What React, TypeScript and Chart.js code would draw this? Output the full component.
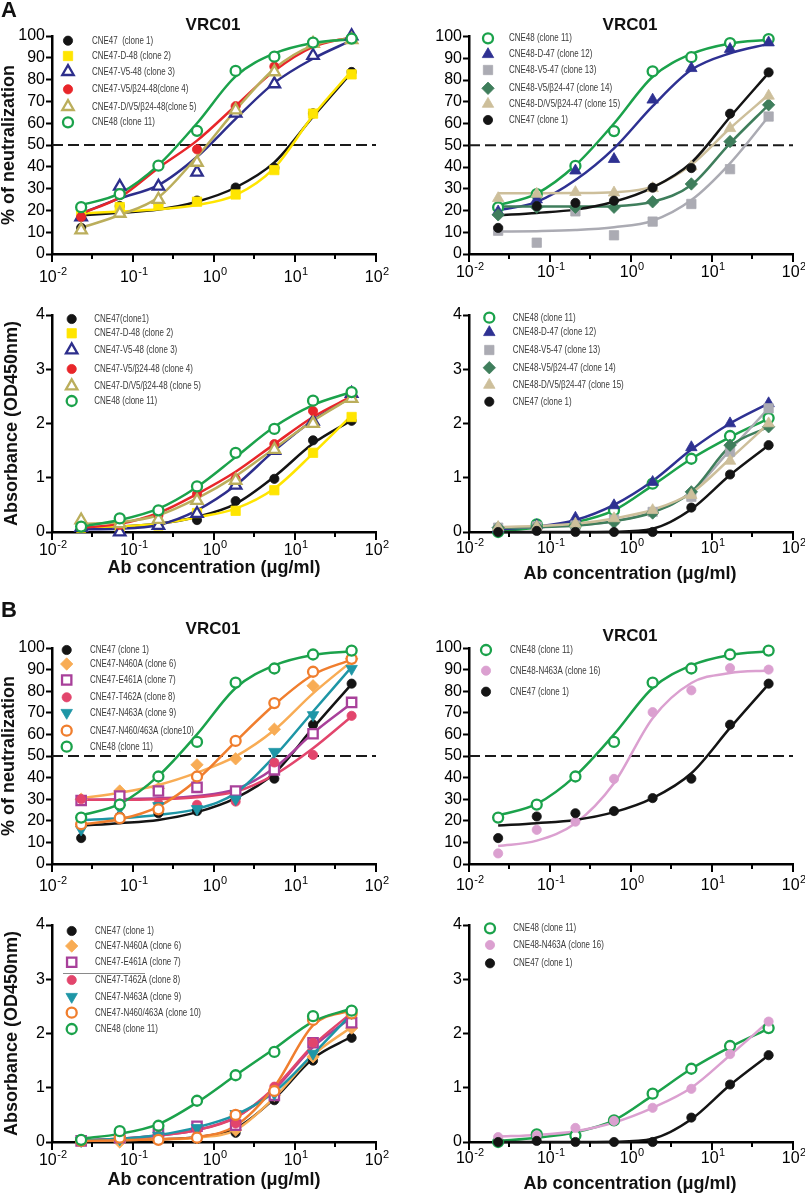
import React, { useEffect, useRef } from "react";
import { Chart, registerables } from "chart.js";
import { drawPoint } from "chart.js/helpers";

Chart.register(...registerables);

const FONT = "'Liberation Sans', Arial, Helvetica, sans-serif";

// ---------- DATA ----------
// antibody concentrations (µg/ml), 3-fold dilutions
const conc = [0.0229, 0.0686, 0.206, 0.617, 1.85, 5.56, 16.7, 50];
const xDecades = [0.01, 0.1, 1, 10, 100];
const xExponents = ["-2", "-1", "0", "1", "2"];
const xMinor = [0.0316, 0.316, 3.16, 31.6];

// % neutralization — shared reference viruses
const cne47Neut = [12, 22, 23.5, 24.5, 30.5, 39.5, 64.5, 83.5];
const cne47NeutFit = [17.8, 18.9, 20.4, 24, 30.5, 42, 63, 83.3];
const cne48Neut = [21.5, 27.5, 40.5, 56.5, 84, 90.5, 97, 98.8];
const cne48NeutFit = [22.4, 27.8, 40.8, 60, 81.5, 92, 96.8, 98.5];

// panel A, neutralization, CNE47 background chimeras
const c2Neut = [18, 21.5, 22.5, 24, 27.3, 38.5, 64.4, 82.4];
const c2NeutFit = [18.6, 19.5, 20.5, 22.5, 27, 39.5, 63.5, 84];
const c3Neut = [17, 31, 31, 37.5, 64.5, 78, 91, 100];
const c3NeutFit = [18.6, 25.5, 31.6, 44.6, 62, 78.5, 89.6, 98];
const c4Neut = [17, 27, 40.5, 48, 67.8, 86, 97, 99];
const c4NeutFit = [18.6, 26, 39.5, 52, 68, 84, 95, 99.5];
const c5Neut = [11, 18.6, 25, 42, 66, 83.5, 96.5, 98.3];
const c5NeutFit = [12, 17.9, 26, 44.6, 66, 85, 95.7, 99];

// panel A, neutralization, CNE48 background chimeras
const c12Neut = [19.5, 25, 38.3, 43.6, 70.9, 85.4, 94.2, 97.2];
const c12NeutFit = [20, 24, 34, 48.6, 68, 84.7, 92.3, 96.6];
const c13Neut = [10.7, 5.2, 19.6, 8.6, 14.9, 23, 39, 63.2];
const c13NeutFit = [10.3, 10.5, 11, 12.3, 15.3, 24.8, 41.7, 63.2];
const c14Neut = [18, 21.5, 21.5, 21.5, 24, 32.2, 51.7, 68.6];
const c14NeutFit = [21.8, 21.8, 21.8, 22, 24, 31.7, 50.9, 68.6];
const c15Neut = [25.6, 27.6, 28.4, 28.2, 30.2, 40.2, 57.8, 72.7];
const c15NeutFit = [27.9, 27.9, 28, 28.4, 31, 41, 57.8, 73.2];

// panel A, absorbance, CNE47 set
const a1Abs = [0.09, 0.09, 0.13, 0.22, 0.57, 0.98, 1.69, 2.05];
const a1AbsFit = [0.08, 0.1, 0.15, 0.28, 0.52, 1.02, 1.63, 2.06];
const a2Abs = [0.08, 0.09, 0.12, 0.35, 0.39, 0.77, 1.46, 2.12];
const a2AbsFit = [0.08, 0.1, 0.15, 0.27, 0.43, 0.8, 1.45, 2.15];
const a3Abs = [0.08, 0, 0.12, 0.34, 0.86, 1.5, 2.04, 2.55];
const a3AbsFit = [0.05, 0.06, 0.13, 0.4, 0.86, 1.5, 2.06, 2.49];
const a4Abs = [0.1, 0.13, 0.31, 0.7, 0.98, 1.62, 2.23, 2.52];
const a4AbsFit = [0.08, 0.15, 0.35, 0.7, 1.11, 1.62, 2.12, 2.5];
const a5Abs = [0.22, 0.15, 0.23, 0.58, 0.95, 1.52, 2.0, 2.46];
const a5AbsFit = [0.15, 0.18, 0.31, 0.62, 1.03, 1.54, 2.05, 2.48];
const a11Abs = [0.1, 0.25, 0.4, 0.84, 1.46, 1.9, 2.42, 2.58];
const a11AbsFit = [0.1, 0.22, 0.43, 0.83, 1.38, 1.94, 2.34, 2.58];

// panel A / B, absorbance, CNE48 set
const b11Abs = [0, 0.14, 0.12, 0.4, 0.89, 1.35, 1.77, 2.1];
const b11AbsFit = [0.02, 0.08, 0.18, 0.4, 0.86, 1.35, 1.75, 2.09];
const b12Abs = [0.06, 0.12, 0.26, 0.49, 0.92, 1.56, 2.0, 2.37];
const b12AbsFit = [0.05, 0.1, 0.22, 0.5, 0.94, 1.52, 2.0, 2.37];
const b13Abs = [0.08, 0.1, 0.12, 0.23, 0.37, 0.65, 1.48, 2.28];
const b13AbsFit = [0.08, 0.09, 0.12, 0.2, 0.37, 0.74, 1.51, 2.28];
const b14Abs = [0.08, 0.09, 0.12, 0.18, 0.35, 0.74, 1.6, 1.94];
const b14AbsFit = [0.08, 0.09, 0.12, 0.2, 0.36, 0.74, 1.58, 1.94];
const b15Abs = [0.09, 0.1, 0.15, 0.25, 0.4, 0.68, 1.31, 2.0];
const b15AbsFit = [0.09, 0.11, 0.15, 0.25, 0.41, 0.72, 1.35, 2.0];
const b1Abs = [0, 0.02, 0, 0, 0, 0.45, 1.06, 1.6];
const b1AbsFit = [0, 0, 0, 0.005, 0.06, 0.42, 1.05, 1.6];

// panel B, neutralization, point mutants
const c6Neut = [30, 33.8, 35, 45.9, 48.7, 62.4, 82.5, 95];
const c6NeutFit = [30.4, 33, 36.6, 42.3, 49.8, 62, 79, 93.8];
const c7Neut = [29.4, 31.5, 33.8, 35.5, 33.8, 43.6, 60.3, 74.8];
const c7NeutFit = [29.7, 30, 30.4, 31.5, 34.6, 44.4, 60.6, 74.4];
const c8Neut = [30, 28, 28, 27.4, 28.9, 47, 50.5, 68.6];
const c8NeutFit = [29.7, 29.7, 30, 30.9, 33.5, 41.3, 53.6, 68.3];
const c9Neut = [16, 25.8, 26.9, 25.5, 30, 52, 69, 90.4];
const c9NeutFit = [20.4, 21.2, 22.7, 25.5, 32.8, 49.8, 70.6, 91.2];
const c10Neut = [18.4, 21.2, 25.3, 40.5, 57, 74.5, 89, 95];
const c10NeutFit = [18.4, 20.7, 26.6, 39, 56.7, 73.7, 87.6, 94.6];
const c16Neut = [4.9, 15.8, 19.6, 39.4, 70.3, 80.4, 90.7, 90];
const c16NeutFit = [8.3, 10.8, 18.9, 37.4, 67.5, 83.8, 88.4, 89.6];

// panel B, absorbance, point mutants
const d1Abs = [0.02, 0.03, 0.05, 0.06, 0.17, 0.77, 1.5, 1.92];
const d1AbsFit = [0.02, 0.03, 0.05, 0.09, 0.25, 0.8, 1.54, 1.94];
const d6Abs = [0.02, 0, 0.05, 0.08, 0.22, 0.86, 1.57, 2.1];
const d6AbsFit = [0.02, 0.03, 0.05, 0.08, 0.22, 0.82, 1.6, 2.12];
const d7Abs = [0.02, 0.08, 0.15, 0.29, 0.31, 0.86, 1.83, 2.2];
const d7AbsFit = [0.03, 0.06, 0.12, 0.22, 0.46, 0.97, 1.75, 2.3];
const d8Abs = [0.02, 0.06, 0.12, 0.22, 0.34, 1.02, 1.83, 2.37];
const d8AbsFit = [0.03, 0.06, 0.12, 0.22, 0.45, 1.0, 1.78, 2.38];
const d9Abs = [0.02, 0.05, 0.12, 0.26, 0.52, 0.89, 1.63, 2.38];
const d9AbsFit = [0.03, 0.06, 0.13, 0.27, 0.5, 0.92, 1.62, 2.36];
const d10Abs = [0.02, 0.08, 0.04, 0.08, 0.5, 0.94, 2.25, 2.37];
const d10AbsFit = [0.02, 0.03, 0.05, 0.09, 0.3, 1.02, 2.15, 2.43];
const d11Abs = [0.04, 0.2, 0.3, 0.76, 1.23, 1.66, 2.32, 2.42];
const d11AbsFit = [0.06, 0.15, 0.33, 0.73, 1.23, 1.72, 2.22, 2.46];
const e16Abs = [0.09, 0.12, 0.26, 0.39, 0.63, 0.98, 1.62, 2.22];
const e16AbsFit = [0.1, 0.13, 0.2, 0.36, 0.63, 1.0, 1.6, 2.22];

// ---------- STYLES ----------
type Shape = "circle" | "rect" | "triangle" | "triangleDown" | "rectRot";
interface Sty { color: string; shape: Shape; open: boolean }
const S: Record<string, Sty> = {
  c1: { color: "#141414", shape: "circle", open: false },
  c2: { color: "#FFE500", shape: "rect", open: false },
  c3: { color: "#2D2E8C", shape: "triangle", open: true },
  c4: { color: "#E8262A", shape: "circle", open: false },
  c5: { color: "#BBAE5C", shape: "triangle", open: true },
  c11: { color: "#1BA24B", shape: "circle", open: true },
  c12: { color: "#2E3192", shape: "triangle", open: false },
  c13: { color: "#ABABB3", shape: "rect", open: false },
  c14: { color: "#3F7E5C", shape: "rectRot", open: false },
  c15: { color: "#CDBF9B", shape: "triangle", open: false },
  c6: { color: "#F8AC55", shape: "rectRot", open: false },
  c7: { color: "#A8409A", shape: "rect", open: true },
  c8: { color: "#E2456C", shape: "circle", open: false },
  c9: { color: "#1E96A6", shape: "triangleDown", open: false },
  c10: { color: "#F07E2E", shape: "circle", open: true },
  c16: { color: "#DBA0D0", shape: "circle", open: false },
};

interface Series { label: string; sty: Sty; pts: number[]; fit: number[] }
const ser = (label: string, sty: Sty, pts: number[], fit: number[]): Series => ({ label, sty, pts, fit });

interface TextItem { text: string; x: number; y: number; font: string; align: CanvasTextAlign; baseline: CanvasTextBaseline; rotate?: boolean }
interface Panel {
  id: string; left: number; top: number; w: number; h: number;
  plotLeft: number; plotRight: number; plotTop: number; plotBottom: number;
  yMax: number; yStep: number; dashed: boolean; xLabelOffset: number;
  legendMarkerX: number; legendTextX: number; legendRows: number[];
  texts: TextItem[]; extraLines?: number[][];
  series: Series[];
}

const TITLE_FONT = `bold 17px ${FONT}`;
const AXIS_TITLE_FONT = `bold 18px ${FONT}`;
const LETTER_FONT = `bold 22px ${FONT}`;

const panels: Panel[] = [
  {
    id: "At1", left: 0, top: 0, w: 400, h: 290,
    plotLeft: 52, plotRight: 376, plotTop: 36, plotBottom: 254,
    yMax: 100, yStep: 10, dashed: true, xLabelOffset: 28,
    legendMarkerX: 68, legendTextX: 92, legendRows: [40.7, 56, 71.7, 89.3, 106.7, 122.3],
    texts: [
      { text: "A", x: 1, y: 17, font: LETTER_FONT, align: "left", baseline: "alphabetic" },
      { text: "VRC01", x: 213, y: 25, font: TITLE_FONT, align: "center", baseline: "middle" },
      { text: "% of neutralization", x: 9, y: 145, font: AXIS_TITLE_FONT, align: "center", baseline: "middle", rotate: true },
    ],
    series: [
      ser("CNE47  (clone 1)", S.c1, cne47Neut, cne47NeutFit),
      ser("CNE47-D-48 (clone 2)", S.c2, c2Neut, c2NeutFit),
      ser("CNE47-V5-48 (clone 3)", S.c3, c3Neut, c3NeutFit),
      ser("CNE47-V5/β24-48(clone 4)", S.c4, c4Neut, c4NeutFit),
      ser("CNE47-D/V5/β24-48(clone 5)", S.c5, c5Neut, c5NeutFit),
      ser("CNE48 (clone 11)", S.c11, cne48Neut, cne48NeutFit),
    ],
  },
  {
    id: "At2", left: 400, top: 0, w: 405, h: 290,
    plotLeft: 69, plotRight: 393, plotTop: 36.5, plotBottom: 254,
    yMax: 100, yStep: 10, dashed: true, xLabelOffset: 23,
    legendMarkerX: 488, legendTextX: 509, legendRows: [38.3, 54.3, 70, 88.3, 104, 120],
    texts: [
      { text: "VRC01", x: 630, y: 25, font: TITLE_FONT, align: "center", baseline: "middle" },
    ],
    series: [
      ser("CNE48 (clone 11)", S.c11, cne48Neut, cne48NeutFit),
      ser("CNE48-D-47 (clone 12)", S.c12, c12Neut, c12NeutFit),
      ser("CNE48-V5-47 (clone 13)", S.c13, c13Neut, c13NeutFit),
      ser("CNE48-V5/β24-47 (clone 14)", S.c14, c14Neut, c14NeutFit),
      ser("CNE48-D/V5/β24-47 (clone 15)", S.c15, c15Neut, c15NeutFit),
      ser("CNE47 (clone 1)", S.c1, cne47Neut, cne47NeutFit),
    ],
  },
  {
    id: "Ab1", left: 0, top: 290, w: 400, h: 300,
    plotLeft: 52, plotRight: 376, plotTop: 25, plotBottom: 242,
    yMax: 4, yStep: 1, dashed: false, xLabelOffset: 23,
    legendMarkerX: 71.7, legendTextX: 94.3, legendRows: [319, 333.3, 350, 369, 386, 401],
    texts: [
      { text: "Absorbance (OD450nm)", x: 12, y: 423.5, font: AXIS_TITLE_FONT, align: "center", baseline: "middle", rotate: true },
      { text: "Ab concentration (μg/ml)", x: 214, y: 573, font: AXIS_TITLE_FONT, align: "center", baseline: "alphabetic" },
    ],
    series: [
      ser("CNE47(clone1)", S.c1, a1Abs, a1AbsFit),
      ser("CNE47-D-48 (clone 2)", S.c2, a2Abs, a2AbsFit),
      ser("CNE47-V5-48 (clone 3)", S.c3, a3Abs, a3AbsFit),
      ser("CNE47-V5/β24-48 (clone 4)", S.c4, a4Abs, a4AbsFit),
      ser("CNE47-D/V5/β24-48 (clone 5)", S.c5, a5Abs, a5AbsFit),
      ser("CNE48 (clone 11)", S.c11, a11Abs, a11AbsFit),
    ],
  },
  {
    id: "Ab2", left: 400, top: 290, w: 405, h: 300,
    plotLeft: 69, plotRight: 393, plotTop: 25, plotBottom: 242,
    yMax: 4, yStep: 1, dashed: false, xLabelOffset: 21,
    legendMarkerX: 489.3, legendTextX: 512.7, legendRows: [317.7, 332.3, 350, 367.7, 385, 401.7],
    texts: [
      { text: "Ab concentration (μg/ml)", x: 630, y: 579, font: AXIS_TITLE_FONT, align: "center", baseline: "alphabetic" },
    ],
    series: [
      ser("CNE48 (clone 11)", S.c11, b11Abs, b11AbsFit),
      ser("CNE48-D-47 (clone 12)", S.c12, b12Abs, b12AbsFit),
      ser("CNE48-V5-47 (clone 13)", S.c13, b13Abs, b13AbsFit),
      ser("CNE48-V5/β24-47 (clone 14)", S.c14, b14Abs, b14AbsFit),
      ser("CNE48-D/V5/β24-47 (clone 15)", S.c15, b15Abs, b15AbsFit),
      ser("CNE47 (clone 1)", S.c1, b1Abs, b1AbsFit),
    ],
  },
  {
    id: "Bt1", left: 0, top: 590, w: 400, h: 310,
    plotLeft: 52, plotRight: 376, plotTop: 58, plotBottom: 274,
    yMax: 100, yStep: 10, dashed: true, xLabelOffset: 27,
    legendMarkerX: 66.7, legendTextX: 90, legendRows: [650, 664, 680, 697.3, 712.7, 730.7, 746.7],
    texts: [
      { text: "B", x: 1, y: 617, font: LETTER_FONT, align: "left", baseline: "alphabetic" },
      { text: "VRC01", x: 213, y: 629, font: TITLE_FONT, align: "center", baseline: "middle" },
      { text: "% of neutralization", x: 9, y: 756, font: AXIS_TITLE_FONT, align: "center", baseline: "middle", rotate: true },
    ],
    series: [
      ser("CNE47 (clone 1)", S.c1, cne47Neut, cne47NeutFit),
      ser("CNE47-N460A (clone 6)", S.c6, c6Neut, c6NeutFit),
      ser("CNE47-E461A (clone 7)", S.c7, c7Neut, c7NeutFit),
      ser("CNE47-T462A (clone 8)", S.c8, c8Neut, c8NeutFit),
      ser("CNE47-N463A (clone 9)", S.c9, c9Neut, c9NeutFit),
      ser("CNE47-N460/463A (clone10)", S.c10, c10Neut, c10NeutFit),
      ser("CNE48 (clone 11)", S.c11, cne48Neut, cne48NeutFit),
    ],
  },
  {
    id: "Bt2", left: 400, top: 590, w: 405, h: 310,
    plotLeft: 69, plotRight: 393, plotTop: 58, plotBottom: 274,
    yMax: 100, yStep: 10, dashed: true, xLabelOffset: 26,
    legendMarkerX: 486, legendTextX: 510, legendRows: [650, 670.7, 691.7],
    texts: [
      { text: "VRC01", x: 630, y: 636, font: TITLE_FONT, align: "center", baseline: "middle" },
    ],
    series: [
      ser("CNE48 (clone 11)", S.c11, cne48Neut, cne48NeutFit),
      ser("CNE48-N463A (clone 16)", S.c16, c16Neut, c16NeutFit),
      ser("CNE47 (clone 1)", S.c1, cne47Neut, cne47NeutFit),
    ],
  },
  {
    id: "Bb1", left: 0, top: 900, w: 400, h: 294,
    plotLeft: 52, plotRight: 376, plotTop: 25, plotBottom: 242,
    yMax: 4, yStep: 1, dashed: false, xLabelOffset: 23,
    legendMarkerX: 71.7, legendTextX: 95, legendRows: [931, 946, 962.3, 980, 996.7, 1012.7, 1029],
    texts: [
      { text: "Absorbance (OD450nm)", x: 12, y: 1033.5, font: AXIS_TITLE_FONT, align: "center", baseline: "middle", rotate: true },
      { text: "Ab concentration (μg/ml)", x: 214, y: 1185, font: AXIS_TITLE_FONT, align: "center", baseline: "alphabetic" },
    ],
    extraLines: [[63, 973, 145, 973]],
    series: [
      ser("CNE47 (clone 1)", S.c1, d1Abs, d1AbsFit),
      ser("CNE47-N460A (clone 6)", S.c6, d6Abs, d6AbsFit),
      ser("CNE47-E461A (clone 7)", S.c7, d7Abs, d7AbsFit),
      ser("CNE47-T462A (clone 8)", S.c8, d8Abs, d8AbsFit),
      ser("CNE47-N463A (clone 9)", S.c9, d9Abs, d9AbsFit),
      ser("CNE47-N460/463A (clone 10)", S.c10, d10Abs, d10AbsFit),
      ser("CNE48 (clone 11)", S.c11, d11Abs, d11AbsFit),
    ],
  },
  {
    id: "Bb2", left: 400, top: 900, w: 405, h: 294,
    plotLeft: 69, plotRight: 393, plotTop: 25, plotBottom: 242,
    yMax: 4, yStep: 1, dashed: false, xLabelOffset: 21,
    legendMarkerX: 490, legendTextX: 513.3, legendRows: [928.3, 945, 963.3],
    texts: [
      { text: "Ab concentration (μg/ml)", x: 630, y: 1189, font: AXIS_TITLE_FONT, align: "center", baseline: "alphabetic" },
    ],
    series: [
      ser("CNE48 (clone 11)", S.c11, b11Abs, b11AbsFit),
      ser("CNE48-N463A (clone 16)", S.c16, e16Abs, e16AbsFit),
      ser("CNE47 (clone 1)", S.c1, b1Abs, b1AbsFit),
    ],
  },
];

// ---------- helpers ----------
function markerOpts(s: Sty) {
  const radius = s.shape === "circle" ? (s.open ? 5 : 4.6) : s.shape === "rect" ? 6.6 : s.shape === "rectRot" ? 6.2 : 6.6;
  return {
    pointStyle: s.shape === "triangleDown" ? "triangle" : s.shape,
    rotation: s.shape === "triangleDown" ? 180 : 0,
    radius,
    borderWidth: s.open ? 2.3 : 0.8,
    bg: s.open ? "#ffffff" : s.color,
    border: s.color,
  };
}

function makeDecor(p: Panel) {
  return {
    id: "decor" + p.id,
    afterDraw(chart: any) {
      const ctx: CanvasRenderingContext2D = chart.ctx;
      const xs = chart.scales.x;
      const bottom = chart.chartArea.bottom;
      const X = (v: number) => v - p.left;
      const Y = (v: number) => v - p.top;
      ctx.save();
      // x ticks
      ctx.strokeStyle = "#000";
      ctx.lineWidth = 2;
      xDecades.forEach((v) => {
        const px = Math.round(xs.getPixelForValue(v));
        ctx.beginPath(); ctx.moveTo(px, bottom); ctx.lineTo(px, bottom + 8); ctx.stroke();
      });
      xMinor.forEach((v) => {
        const px = Math.round(xs.getPixelForValue(v));
        ctx.beginPath(); ctx.moveTo(px, bottom); ctx.lineTo(px, bottom + 5); ctx.stroke();
      });
      // x tick labels with superscript exponents
      ctx.fillStyle = "#000";
      ctx.textAlign = "left";
      ctx.textBaseline = "alphabetic";
      xDecades.forEach((v, i) => {
        const px = xs.getPixelForValue(v);
        ctx.font = `16px ${FONT}`;
        const w1 = ctx.measureText("10").width;
        ctx.font = `11px ${FONT}`;
        const w2 = ctx.measureText(xExponents[i]).width;
        const start = px + 1 - (w1 + w2 + 0.5) / 2;
        ctx.font = `16px ${FONT}`;
        ctx.fillText("10", start, bottom + p.xLabelOffset);
        ctx.font = `11px ${FONT}`;
        ctx.fillText(xExponents[i], start + w1 + 0.5, bottom + p.xLabelOffset - 7);
      });
      // texts
      p.texts.forEach((t) => {
        ctx.save();
        ctx.font = t.font;
        ctx.fillStyle = "#111";
        ctx.textAlign = t.align;
        ctx.textBaseline = t.baseline;
        if (t.rotate) {
          ctx.translate(X(t.x), Y(t.y));
          ctx.rotate(-Math.PI / 2);
          ctx.fillText(t.text, 0, 0);
        } else {
          ctx.fillText(t.text, X(t.x), Y(t.y));
        }
        ctx.restore();
      });
      // extra thin lines
      (p.extraLines || []).forEach((l) => {
        ctx.strokeStyle = "#8a8a8a";
        ctx.lineWidth = 1;
        ctx.beginPath(); ctx.moveTo(X(l[0]), Y(l[1]) + 0.5); ctx.lineTo(X(l[2]), Y(l[3]) + 0.5); ctx.stroke();
      });
      // legend
      p.series.forEach((s, i) => {
        const y = Y(p.legendRows[i]);
        const m = markerOpts(s.sty);
        ctx.save();
        ctx.fillStyle = m.bg;
        ctx.strokeStyle = m.border;
        ctx.lineWidth = m.borderWidth;
        drawPoint(ctx, { pointStyle: m.pointStyle as any, rotation: m.rotation, radius: m.radius, borderWidth: m.borderWidth }, X(p.legendMarkerX), y);
        ctx.restore();
        ctx.save();
        ctx.translate(X(p.legendTextX), y);
        ctx.scale(0.76, 1);
        ctx.font = `10.5px ${FONT}`;
        ctx.fillStyle = "#3a3a3a";
        ctx.textAlign = "left";
        ctx.textBaseline = "middle";
        ctx.fillText(s.label, 0, 0);
        ctx.restore();
      });
      ctx.restore();
    },
  };
}

function PanelChart({ p }: { p: Panel }) {
  const ref = useRef<HTMLCanvasElement | null>(null);
  useEffect(() => {
    if (!ref.current) return;
    const datasets: any[] = [];
    if (p.dashed) {
      datasets.push({
        type: "line",
        data: [{ x: 0.01, y: 50 }, { x: 100, y: 50 }],
        borderColor: "#1a1a1a",
        borderWidth: 2,
        borderDash: [11, 5],
        pointRadius: 0,
        order: 1000,
        clip: false,
      });
    }
    p.series.forEach((s, i) => {
      datasets.push({
        type: "line",
        data: conc.map((x, j) => ({ x, y: s.fit[j] })),
        borderColor: s.sty.color,
        borderWidth: 2.5,
        pointRadius: 0,
        cubicInterpolationMode: "monotone",
        fill: false,
        order: 500 - i,
        clip: false,
      });
      const m = markerOpts(s.sty);
      datasets.push({
        type: "scatter",
        data: conc.map((x, j) => ({ x, y: s.pts[j] })),
        showLine: false,
        pointStyle: m.pointStyle,
        pointRotation: m.rotation,
        pointRadius: m.radius,
        pointBorderWidth: m.borderWidth,
        pointBackgroundColor: m.bg,
        pointBorderColor: m.border,
        order: 100 - i,
        clip: false,
      });
    });
    const chart = new Chart(ref.current, {
      type: "scatter",
      data: { datasets },
      options: {
        animation: false,
        responsive: false,
        maintainAspectRatio: false,
        events: [],
        layout: { padding: { left: 0, top: p.plotTop, right: p.w - p.plotRight, bottom: 0 } },
        plugins: { legend: { display: false }, tooltip: { enabled: false }, title: { display: false } },
        scales: {
          x: {
            type: "logarithmic",
            min: 0.01,
            max: 100,
            position: "bottom",
            grid: { display: false, drawTicks: false },
            border: { display: true, color: "#000", width: 2.5 },
            ticks: { display: false },
            afterFit: (s: any) => { s.height = p.h - p.plotBottom; s.paddingLeft = 0; s.paddingRight = 0; },
          },
          y: {
            type: "linear",
            min: 0,
            max: p.yMax,
            position: "left",
            ticks: { stepSize: p.yStep, autoSkip: false, color: "#000", padding: 1, font: { family: FONT, size: 16 } },
            grid: { drawOnChartArea: false, drawTicks: true, tickLength: 6, tickWidth: 2, tickColor: "#000" },
            border: { display: true, color: "#000", width: 2.5 },
            afterFit: (s: any) => { s.width = p.plotLeft; s.paddingTop = 0; s.paddingBottom = 0; },
          },
        },
      } as any,
      plugins: [makeDecor(p)],
    });
    return () => chart.destroy();
  }, [p]);
  return (
    <canvas
      ref={ref}
      width={p.w}
      height={p.h}
      style={{ position: "absolute", left: p.left, top: p.top, width: p.w, height: p.h }}
    />
  );
}

export default function App() {
  return (
    <div style={{ position: "absolute", left: 0, top: 0, width: 805, height: 1194, background: "#fff", overflow: "hidden" }}>
      {panels.map((p) => (
        <PanelChart key={p.id} p={p} />
      ))}
    </div>
  );
}
